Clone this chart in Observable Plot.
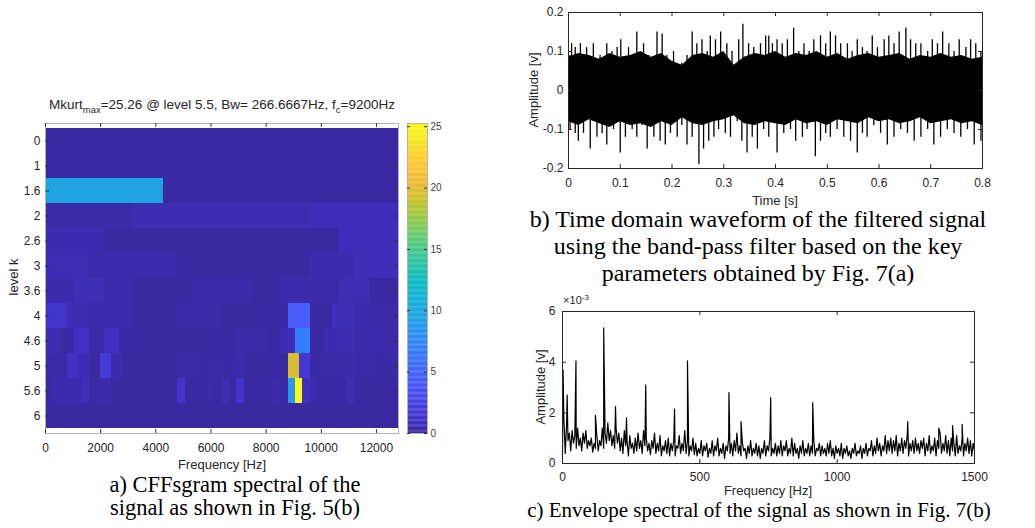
<!DOCTYPE html>
<html><head><meta charset="utf-8">
<script src="https://cdn.jsdelivr.net/npm/d3@7"></script>
<script src="https://cdn.jsdelivr.net/npm/@observablehq/plot@0.6"></script>
<style>
body{margin:0;background:#fff;}
#root{position:relative;width:1035px;height:528px;overflow:hidden;background:#fff;}
.t{position:absolute;white-space:nowrap;line-height:1;transform:translate(-50%,-50%);}
.sans{font-family:"Liberation Sans",Arial,Helvetica,sans-serif;color:#262626;}
.serif{font-family:"Liberation Serif","Times New Roman",serif;color:#000;}
</style></head><body><div id="root"></div>
<script>
// ---------- Panel a: CFFsgram (kurtogram) ----------
const fMax = 12800;
const kurtMax = 25.26;
const levels = ["0","1","1.6","2","2.6","3","3.6","4","4.6","5","5.6","6"];
const L0 = [0.15];
const L1 = [0.15, 0.15];
const L16 = [9.6, 0.15, 0.15];
const L2 = [0.25, 0.5, 0.5, 0.75];
const L26 = [0.45, 0.1, 0.1, 0.1, 0.1, 0.75];
const L3 = [0.65, 0.35, 0.35, 0.1, 0.1, 0.1, 0.4, 0.7];
const L36 = [0.4, 0.7, 0.35, 0.1, 0.1, 0.3, 0.3, 0.1, 0.4, 0.3, 0.65, 0.15];
const L4 = [1.3, 0.5, 0.35, 0.35, 0.1, 0.1, 0.3, 0.25, 0.1, 0.1, 0.15, 4.2, 0.1, 0.7, 0.35, 0.25];
const L46 = [0.55, 0.15, 1.0, 0.2, 0.9, 0.15, 0.1, 0.1, 0.1, 0.1, 0.1, 0.15, 0.1, 0.3, 0.25, 0.15, 0.6, 6.6, 0.1, 0.45, 0.5, 0.25, 0.45, 0.25];
const L5 = [0.2, 0.25, 1.0, 0.6, 0.15, 1.8, 0.4, 0.1, 0.1, 0.1, 0.1, 0.1, 0.25, 0.25, 0.1, 0.2, 0.15, 0.4, 0.1, 0.1, 0.1, 0.15, 19.5, 1.6, 0.15, 0.2, 0.2, 0.4, 0.2, 0.3, 0.15, 0.2];
const L56 = [0.1,0.4,0.4,0.4,0.4,0.7,0.15,0.35,0.35,0.1, 0.1,0.1,0.1,0.1,0.1,0.1,0.1,0.1,1.2,0.1, 0.1,0.1,0.3,0.1,0.5,0.1,1.3,0.1,0.1,0.1, 0.15,0.4,0.1,8.4,25.26,0.8,0.4,0.15,0.15,0.15, 0.15,0.5,0.15,0.1,0.1,0.1,0.1,0.1];
const L6 = [0.1,0.1,0.1,0.1,0.1,0.1,0.1,0.1,0.1,0.1,0.1,0.1,0.1,0.1,0.1,0.1, 0.1,0.1,0.1,0.1,0.1,0.1,0.1,0.1,0.1,0.1,0.1,0.1,0.1,0.1,0.1,0.1, 0.1,0.1,0.1,0.1,0.1,0.1,0.1,0.1,0.1,0.1,0.1,0.1,0.1,0.1,0.1,0.1, 0.1,0.1,0.1,0.1,0.1,0.1,0.1,0.1,0.1,0.1,0.1,0.1,0.1,0.1,0.1,0.1];
const kurtRows = [L0, L1, L16, L2, L26, L3, L36, L4, L46, L5, L56, L6];
const freqTicks = [0, 2000, 4000, 6000, 8000, 10000, 12000];
const cbTicks = [0, 5, 10, 15, 20, 25];

// ---------- Panel b: time waveform (envelope peaks) ----------
const timeTicks = [0, 0.1, 0.2, 0.3, 0.4, 0.5, 0.6, 0.7, 0.8];
const ampTicksB = [-0.2, -0.1, 0, 0.1, 0.2];
const upT = [.003,.006,.013,.023,.035,.048,.061,.074,.084,.094,.101,.116,.132,.145,.155,.171,.181,.190,.203,.219,.229,.239,.248,.258,.268,.274,.284,.294,.306,.316,.329,.337,.348,.358,.371,.381,.387,.394,.403,.413,.423,.435,.445,.455,.465,.474,.487,.497,.506,.516,.526,.539,.548,.558,.568,.577,.587,.597,.610,.619,.629,.639,.652,.661,.671,.681,.694,.703,.713,.723,.735,.745,.755,.768,.777,.787,.797];
const upV = [.09,.12,.11,.12,.11,.12,.09,.12,.10,.11,.13,.11,.15,.12,.09,.15,.145,.09,.10,.07,.09,.15,.12,.13,.10,.14,.13,.15,.12,.10,.13,.17,.12,.11,.12,.14,.14,.12,.13,.12,.13,.16,.10,.12,.10,.13,.14,.12,.15,.14,.12,.12,.10,.13,.11,.10,.14,.11,.13,.14,.12,.15,.16,.13,.12,.12,.10,.13,.12,.15,.12,.10,.13,.11,.13,.12,.10];
const loT = [.003,.013,.019,.029,.042,.055,.065,.074,.087,.100,.110,.123,.132,.142,.152,.165,.177,.187,.197,.210,.219,.229,.239,.252,.261,.271,.281,.290,.303,.313,.326,.335,.345,.355,.365,.377,.387,.403,.416,.429,.439,.452,.461,.477,.487,.497,.506,.519,.532,.545,.558,.568,.577,.590,.603,.616,.629,.642,.655,.668,.681,.694,.706,.719,.732,.745,.758,.771,.784,.797];
const loV = [-.10,-.11,-.13,-.11,-.15,-.12,-.11,-.14,-.10,-.16,-.12,-.10,-.12,-.09,-.15,-.12,-.13,-.14,-.11,-.12,-.09,-.14,-.12,-.19,-.15,-.13,-.12,-.10,-.11,-.12,-.08,-.13,-.16,-.12,-.15,-.10,-.12,-.16,-.11,-.10,-.13,-.12,-.10,-.17,-.13,-.11,-.12,-.10,-.12,-.13,-.16,-.11,-.12,-.09,-.11,-.14,-.12,-.10,-.11,-.13,-.12,-.10,-.14,-.12,-.10,-.11,-.12,-.10,-.14,-.13];
const coreStep = 0.02; // s between core-envelope readings
const coreUp = [.085,.095,.09,.08,.095,.085,.09,.1,.085,.095,.075,.065,.09,.095,.085,.1,.065,.085,.095,.09,.1,.085,.095,.09,.1,.085,.095,.08,.09,.095,.085,.09,.095,.08,.09,.085,.095,.085,.09,.08,.085];
const coreLo = [-.08,-.09,-.075,-.085,-.095,-.08,-.09,-.085,-.095,-.08,-.09,-.07,-.085,-.09,-.08,-.075,-.065,-.085,-.09,-.08,-.085,-.09,-.075,-.085,-.08,-.09,-.075,-.08,-.085,-.07,-.08,-.075,-.085,-.08,-.07,-.085,-.08,-.075,-.085,-.08,-.09];

// ---------- Panel c: envelope spectrum (x1e-3) ----------
const specStep = 5; // Hz between noise samples
const specNoise = [
 0.35,1.75,0.4,1.6,0.9,1.2,0.5,1.3,0.8,1.1,0.6,1.4,0.7,1.0,0.5,1.2,0.8,1.3,0.6,0.9,
 0.7,1.0,0.45,0.8,0.6,1.1,0.5,0.9,0.7,1.4,0.6,1.2,0.8,1.6,0.9,1.3,0.7,1.1,0.6,1.4,
 0.8,1.2,0.5,1.0,0.4,1.3,0.7,0.9,0.3,1.1,0.6,0.8,0.4,1.0,0.5,1.2,0.6,0.9,0.4,1.3,
 0.7,1.0,0.5,0.8,0.35,0.9,0.6,1.2,0.4,0.8,0.5,1.1,0.3,0.7,0.5,0.9,0.4,1.0,0.3,0.8,
 0.5,0.9,0.3,0.7,0.6,1.1,0.4,0.8,0.5,1.3,0.4,0.9,0.3,0.7,0.5,1.0,0.35,0.8,0.3,0.6,
 0.4,0.9,0.3,0.7,0.5,0.8,0.25,0.6,0.4,0.9,0.3,0.7,0.5,1.0,0.3,0.6,0.4,0.8,0.2,0.7,
 0.5,1.0,0.4,0.8,0.3,0.9,0.5,1.2,0.4,0.7,0.3,0.8,0.5,0.6,0.2,0.7,0.4,0.9,0.3,0.6,
 0.4,0.8,0.3,0.7,0.2,0.6,0.4,0.9,0.3,0.7,0.5,1.0,0.3,0.6,0.4,0.8,0.3,0.7,0.4,0.9,
 0.3,0.7,0.5,0.9,0.3,0.6,0.4,1.0,0.3,0.8,0.4,0.6,0.2,0.7,0.4,0.9,0.3,0.6,0.4,0.8,
 0.3,0.7,0.4,0.9,0.3,0.6,0.5,0.8,0.3,0.7,0.4,0.6,0.3,0.8,0.4,0.9,0.3,0.6,0.2,0.7,
 0.4,0.6,0.3,0.8,0.2,0.6,0.4,0.7,0.3,0.5,0.2,0.6,0.4,0.8,0.3,0.5,0.4,0.7,0.2,0.6,
 0.4,0.8,0.3,0.6,0.5,0.9,0.3,0.7,0.4,1.0,0.5,0.8,0.3,0.7,0.5,1.1,0.4,0.9,0.5,1.0,
 0.4,0.9,0.5,1.1,0.3,0.8,0.5,1.0,0.4,0.9,0.6,1.1,0.3,0.8,0.5,0.9,0.4,1.0,0.5,0.8,
 0.4,0.9,0.6,1.0,0.3,0.8,0.5,1.1,0.4,0.7,0.5,1.0,0.3,0.9,0.6,1.2,0.4,0.8,0.5,1.1,
 0.4,0.9,0.3,1.0,0.5,0.8,0.3,1.1,0.4,0.7,0.5,1.0,0.3,0.8,0.5,1.0,0.4,0.9,0.3,0.8,
 0.5];
const spikeF = [2, 17, 49, 120, 150, 193, 233, 303, 408, 455, 606, 650, 758, 911, 1257, 1370, 1420, 1455];
const spikeA = [3.7, 2.7, 4.05, 1.9, 5.35, 2.25, 1.8, 3.1, 2.15, 4.05, 2.8, 1.65, 2.6, 2.4, 1.65, 1.4, 1.5, 1.55];
const envTicksX = [0, 500, 1000, 1500];
const envTicksY = [0, 2, 4, 6];

// ---------- helpers ----------
const root = document.getElementById("root");
function put(el, left, top) { el.style.position = "absolute"; el.style.left = left + "px"; el.style.top = top + "px"; root.appendChild(el); }
function txt(html, x, y, cls, size, rot) {
  const d = document.createElement("div");
  d.className = "t " + cls; d.style.left = x + "px"; d.style.top = y + "px"; d.style.fontSize = size + "px";
  if (rot) d.style.transform = "translate(-50%,-50%) rotate(-90deg)";
  d.innerHTML = html; root.appendChild(d);
}
const baseStyle = {fontFamily: "'Liberation Sans', Arial, Helvetica, sans-serif", fontSize: "12px", color: "#262626", background: "none", overflow: "visible"};
const fmt = d => String(d);

// parula colormap stops
const parT = [0, 3/63, 7/63, 11/63, 15/63, 19/63, 23/63, 27/63, 31/63, 35/63, 39/63, 43/63, 47/63, 51/63, 55/63, 59/63, 1];
const parC = ["#3a289e","#4332cb","#4747eb","#465efb","#3875fe","#2d8cf3","#23a0e5","#12b1d6","#0bbdbd","#31c69f","#57cc7a","#8fcb4e","#c5c22a","#f0ba36","#fec934","#f5e327","#f9fb15"];
const parula = d3.scaleLinear().domain(parT).range(parC).interpolate(d3.interpolateRgb).clamp(true);
const colorScale = {type: "linear", domain: [0, kurtMax], interpolate: t => parula(t)};

// ---------- Panel a plot ----------
const cells = [];
levels.forEach((lv, i) => {
  const row = kurtRows[i], n = row.length;
  row.forEach((v, j) => cells.push({level: lv, f1: j * fMax / n, f2: (j + 1) * fMax / n, v}));
});
{
  const W = 400, H = 342, ml = 45, mr = 2, mt = 10, mb = 22;
  const fw = W - ml - mr, fh = H - mt - mb;
  const p = Plot.plot({
    width: W, height: H, marginLeft: ml, marginRight: mr, marginTop: mt, marginBottom: mb,
    style: baseStyle,
    x: {domain: [0, fMax]},
    y: {type: "band", domain: levels, padding: 0},
    color: colorScale,
    marks: [
      Plot.barX(cells, {x1: "f1", x2: "f2", y: "level", fill: "v", shapeRendering: "crispEdges"}),
      Plot.frame({stroke: "#b4b4b4"}),
      Plot.tickX(freqTicks, {x: d => d, insetTop: fh - 4, stroke: "#333"}),
      Plot.tickX(freqTicks, {x: d => d, insetBottom: fh - 4, stroke: "#333"}),
      Plot.tickY(levels, {y: d => d, insetRight: fw - 4, stroke: "#333"}),
      Plot.tickY(levels, {y: d => d, insetLeft: fw - 4, stroke: "#333"}),
      Plot.axisX(freqTicks, {tickSize: 0, tickPadding: 10, tickFormat: fmt, label: null}),
      Plot.axisY({tickSize: 0, tickPadding: 5, label: null})
    ]
  });
  put(p, 0, 113);
}
// colorbar
{
  const W = 45, H = 342, ml = 7, mr = 18, mt = 10, mb = 22;
  const fw = W - ml - mr, fh = H - mt - mb;
  const steps = d3.range(0, kurtMax, 0.1);
  const p = Plot.plot({
    width: W, height: H, marginLeft: ml, marginRight: mr, marginTop: mt, marginBottom: mb,
    style: {...baseStyle, fontSize: "10px", color: "#404040"},
    x: {domain: [0, 1], axis: null},
    y: {domain: [0, kurtMax]},
    color: colorScale,
    marks: [
      Plot.rect(steps, {x1: d => 0, x2: d => 1, y1: d => d, y2: d => Math.min(kurtMax, d + 0.12), fill: d => d}),
      Plot.frame({stroke: "#b4b4b4"}),
      Plot.tickY(cbTicks, {y: d => d, insetRight: fw - 3, stroke: "#333"}),
      Plot.tickY(cbTicks, {y: d => d, insetLeft: fw - 3, stroke: "#333"}),
      Plot.axisY(cbTicks, {anchor: "right", tickSize: 0, tickPadding: 3, tickFormat: fmt, label: null})
    ]
  });
  put(p, 400, 113);
}
txt("Mkurt<sub style='font-size:9.5px;vertical-align:-4px'>max</sub>=25.26 @ level 5.5, Bw= 266.6667Hz, f<sub style='font-size:9.5px;vertical-align:-4px'>c</sub>=9200Hz", 222, 106, "sans", 13.5);
txt("level k", 13, 277, "sans", 13, true);
txt("Frequency [Hz]", 222, 464, "sans", 13);
txt("a) CFFsgram spectral of the", 235, 485, "serif", 22.5);
txt("signal as shown in Fig. 5(b)", 235, 508, "serif", 22.5);

// ---------- Panel b plot ----------
{
  const W = 500, H = 190, ml = 68, mr = 18, mt = 12, mb = 22;
  const fw = W - ml - mr, fh = H - mt - mb;
  const core = coreUp.map((u, i) => ({t: i * coreStep, up: u, lo: coreLo[i]}));
  const spikes = upT.map((t, i) => ({t, v: upV[i]})).concat(loT.map((t, i) => ({t, v: loV[i]})));
  const p = Plot.plot({
    width: W, height: H, marginLeft: ml, marginRight: mr, marginTop: mt, marginBottom: mb,
    style: baseStyle,
    x: {domain: [0, 0.8]},
    y: {domain: [-0.2, 0.2]},
    marks: [
      Plot.areaY(core, {x: "t", y1: "lo", y2: "up", fill: "#000"}),
      Plot.ruleX(spikes, {x: "t", y1: 0, y2: "v", stroke: "#000", strokeWidth: 1.3}),
      Plot.frame({stroke: "#262626"}),
      Plot.tickX(timeTicks, {x: d => d, insetTop: fh - 4, stroke: "#262626"}),
      Plot.tickX(timeTicks, {x: d => d, insetBottom: fh - 4, stroke: "#262626"}),
      Plot.tickY(ampTicksB, {y: d => d, insetRight: fw - 4, stroke: "#262626"}),
      Plot.tickY(ampTicksB, {y: d => d, insetLeft: fw - 4, stroke: "#262626"}),
      Plot.axisX(timeTicks, {tickSize: 0, tickPadding: 10, tickFormat: fmt, label: null}),
      Plot.axisY(ampTicksB, {tickSize: 0, tickPadding: 5, tickFormat: fmt, label: null})
    ]
  });
  put(p, 500, 0);
}
txt("Amplitude [v]", 533, 90, "sans", 13, true);
txt("Time [s]", 775, 200, "sans", 13);
txt("b) Time domain waveform of the filtered signal", 758, 219, "serif", 24);
txt("using the band-pass filter based on the key", 758, 246, "serif", 24);
txt("parameters obtained by Fig. 7(a)", 758, 273, "serif", 24);

// ---------- Panel c plot ----------
{
  const W = 500, H = 195, ml = 62, mr = 26, mt = 21, mb = 22;
  const fw = W - ml - mr, fh = H - mt - mb;
  const pts = specNoise.map((a, i) => ({f: i * specStep, a}))
    .concat(spikeF.map((f, i) => ({f, a: spikeA[i]})))
    .sort((p, q) => p.f - q.f);
  const p = Plot.plot({
    width: W, height: H, marginLeft: ml, marginRight: mr, marginTop: mt, marginBottom: mb,
    style: baseStyle,
    x: {domain: [0, 1500]},
    y: {domain: [0, 6]},
    marks: [
      Plot.line(pts, {x: "f", y: "a", stroke: "#000", strokeWidth: 1.2}),
      Plot.frame({stroke: "#262626"}),
      Plot.tickX(envTicksX, {x: d => d, insetTop: fh - 4, stroke: "#262626"}),
      Plot.tickX(envTicksX, {x: d => d, insetBottom: fh - 4, stroke: "#262626"}),
      Plot.tickY(envTicksY, {y: d => d, insetRight: fw - 4, stroke: "#262626"}),
      Plot.tickY(envTicksY, {y: d => d, insetLeft: fw - 4, stroke: "#262626"}),
      Plot.axisX(envTicksX, {tickSize: 0, tickPadding: 9, tickFormat: fmt, label: null}),
      Plot.axisY(envTicksY, {tickSize: 0, tickPadding: 7, tickFormat: fmt, label: null})
    ]
  });
  put(p, 500, 290);
}
txt("×10<sup style='font-size:8px;vertical-align:4px'>-3</sup>", 576, 300, "sans", 11);
txt("Amplitude [v]", 540, 387, "sans", 13, true);
txt("Frequency [Hz]", 768, 490, "sans", 13);
txt("c) Envelope spectral of the signal as shown in Fig. 7(b)", 759, 510, "serif", 21);
</script></body></html>
